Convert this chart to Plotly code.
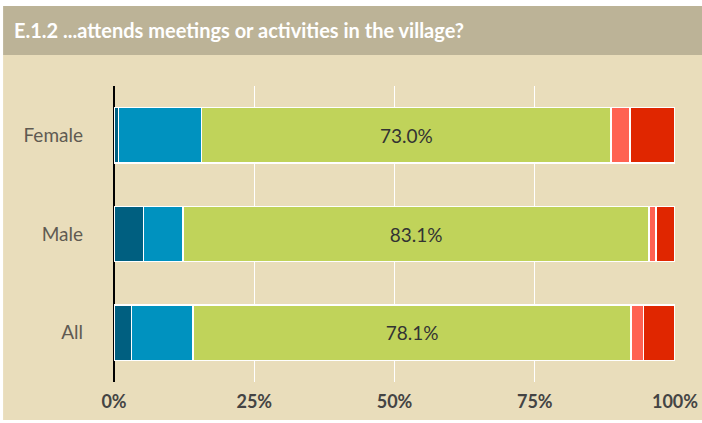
import plotly.graph_objects as go

categories = ["All", "Male", "Female"]
series_names = ["Always", "Often", "Sometimes", "Rarely", "Never"]
always = [3.1, 5.3, 0.8]
often = [11.0, 7.0, 14.8]
sometimes = [78.1, 83.1, 73.0]
rarely = [2.2, 1.2, 3.4]
never = [5.6, 3.4, 8.0]
colors = ["#005f80", "#0092bf", "#c0d35a", "#ff6252", "#e02600"]
title_text = "E.1.2 ...attends meetings or activities in the village?"
tick_vals = [0, 25, 50, 75, 100]
tick_text = ["0%", "25%", "50%", "75%", "100%"]

W, H = 702, 423
ML, MR, MT, MB = 114, 26.5, 86, 41
pw = W - ML - MR
ph = H - MT - MB

def px_x(p):
    return (p - ML) / pw

def px_y(p):
    return (H - MB - p) / ph

fig = go.Figure()
for name, vals, col in zip(series_names, [always, often, sometimes, rarely, never], colors):
    show_text = name == "Sometimes"
    fig.add_trace(go.Bar(
        y=categories, x=vals, name=name, orientation="h",
        marker=dict(color=col, line=dict(color="white", width=1.5)),
        text=[f"{v:.1f}%" for v in vals] if show_text else None,
        textposition="inside" if show_text else "none",
        insidetextanchor="middle",
        textfont=dict(family="Lato", size=19, color="#333333"),
        hoverinfo="skip",
    ))

shapes = [
    dict(type="rect", xref="paper", yref="paper", x0=px_x(3), x1=px_x(W + 5), y0=px_y(420), y1=px_y(55),
         fillcolor="#e9ddbb", line=dict(width=0), layer="below"),
    dict(type="rect", xref="paper", yref="paper", x0=px_x(3), x1=px_x(W + 5), y0=px_y(55), y1=px_y(6),
         fillcolor="#bcb397", line=dict(width=0), layer="below"),
]

fig.update_layout(
    width=W, height=H,
    margin=dict(l=ML, r=MR, t=MT, b=MB),
    barmode="stack", bargap=0.44,
    paper_bgcolor="white", plot_bgcolor="#e9ddbb",
    showlegend=False,
    shapes=shapes,
    annotations=[dict(text="<b>" + title_text + "</b>", xref="paper", yref="paper",
                      x=px_x(12), y=px_y(30), xanchor="left", yanchor="middle",
                      showarrow=False, font=dict(family="Lato", size=20, color="white"))],
    xaxis=dict(range=[0, 100], tickvals=tick_vals, ticktext=["<b>" + t + "</b>" for t in tick_text],
               showgrid=True, gridcolor="white", gridwidth=1,
               zeroline=True, zerolinecolor="black", zerolinewidth=2,
               tickfont=dict(family="Lato", size=18, color="#444444"),
               ticks="", ticklabelstandoff=7, automargin=False, fixedrange=True),
    yaxis=dict(showgrid=False, zeroline=False, ticks="", ticklen=0,
               tickfont=dict(family="Lato", size=19, color="#5f5a52"),
               ticklabelstandoff=30, automargin=False, fixedrange=True),
)

fig.write_html("out.html", config={"displayModeBar": False},
               post_script="document.body.style.margin='0';")
